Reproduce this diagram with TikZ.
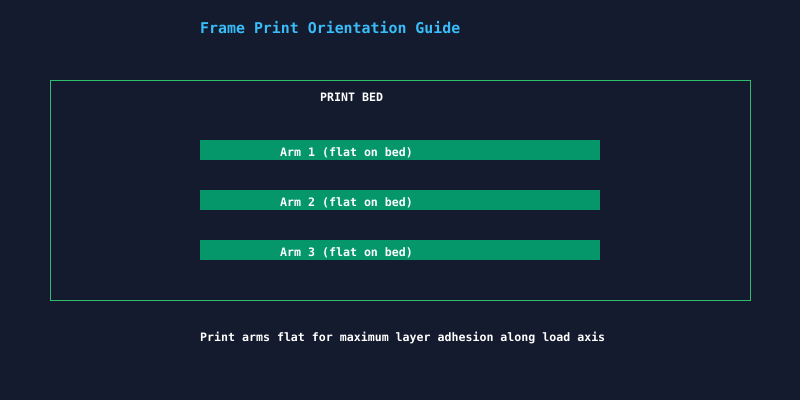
\documentclass[tikz,border=0pt]{standalone}
\usepackage{fontspec}
\setmonofont{DejaVu Sans Mono}
\usepackage{tikz}
\usetikzlibrary{positioning}
\definecolor{BGnavy}{HTML}{151B2E}
\definecolor{TitleBlue}{HTML}{38BDF8}
\definecolor{BedGreen}{HTML}{2EBF6E}
\definecolor{ArmGreen}{HTML}{059669}
\tikzstyle{bed} = [rectangle, 
minimum width=700pt, 
minimum height=220pt, 
draw=BedGreen, 
line width=1pt, 
anchor=north west]
\tikzstyle{arm} = [rectangle, 
minimum width=400pt, 
minimum height=20pt, 
inner sep=0pt, 
fill=ArmGreen, 
anchor=north west]
\tikzstyle{label} = [inner sep=0pt, 
anchor=base west, 
text=white, 
font=\ttfamily\bfseries\fontsize{11.6}{13}\selectfont]
\tikzstyle{title} = [inner sep=0pt, 
anchor=base west, 
text=TitleBlue, 
font=\ttfamily\bfseries\fontsize{14.9}{17}\selectfont]

\begin{document}
\begin{tikzpicture}[x=1pt, y=-1pt]
                \fill[BGnavy] (0,0) rectangle (800,400);
                \useasboundingbox (0,0) rectangle (800,400);
                \node[title] (head) at (200,33) {Frame Print Orientation Guide};
                \node[bed] (bed) at (50,80) {};
                \node[label] (bedname) at (320,101) {PRINT BED};
                \node[arm] (arm1) at (200,140) {};
                \node[arm] (arm2) at (200,190) {};
                \node[arm] (arm3) at (200,240) {};
                \node[label] (lab1) at (280,156) {Arm 1 (flat on bed)};
                \node[label] (lab2) at (280,206) {Arm 2 (flat on bed)};
                \node[label] (lab3) at (280,256) {Arm 3 (flat on bed)};
                \node[label] (note) at (200,341) {Print arms flat for maximum layer adhesion along load axis};
            \end{tikzpicture}
\end{document}
